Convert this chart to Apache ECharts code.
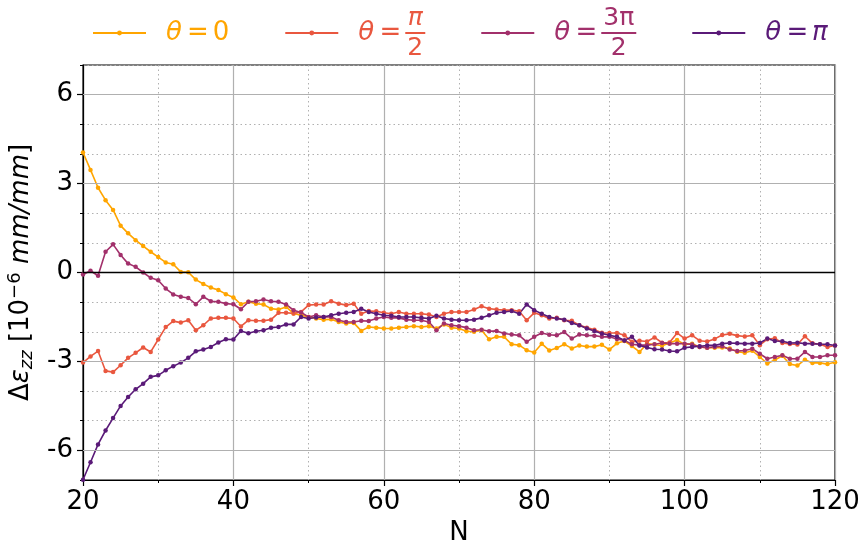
<!DOCTYPE html>
<html>
<head>
<meta charset="utf-8">
<script src="https://cdn.jsdelivr.net/npm/echarts@6/dist/echarts.min.js"></script>
<style>html,body{margin:0;padding:0;background:#fff}#c{width:858px;height:545px}</style>
</head>
<body>
<div id="c"></div>
<script>
// N from 20 to 120
const nValues = [20,21,22,23,24,25,26,27,28,29,30,31,32,33,34,35,36,37,38,39,40,41,42,43,44,45,46,47,48,49,50,51,52,53,54,55,56,57,58,59,60,61,62,63,64,65,66,67,68,69,70,71,72,73,74,75,76,77,78,79,80,81,82,83,84,85,86,87,88,89,90,91,92,93,94,95,96,97,98,99,100,101,102,103,104,105,106,107,108,109,110,111,112,113,114,115,116,117,118,119,120];

const theta0 = [4.05,3.46,2.86,2.44,2.11,1.58,1.32,1.09,0.89,0.70,0.52,0.34,0.28,0.02,0.01,-0.24,-0.39,-0.51,-0.59,-0.73,-0.84,-1.07,-0.99,-1.05,-1.08,-1.22,-1.25,-1.16,-1.38,-1.44,-1.50,-1.55,-1.59,-1.58,-1.67,-1.72,-1.70,-1.97,-1.84,-1.86,-1.89,-1.89,-1.86,-1.84,-1.81,-1.84,-1.81,-1.89,-1.75,-1.86,-1.89,-1.98,-2.00,-1.95,-2.25,-2.17,-2.17,-2.42,-2.45,-2.62,-2.70,-2.40,-2.63,-2.55,-2.42,-2.56,-2.46,-2.50,-2.50,-2.44,-2.60,-2.39,-2.31,-2.48,-2.68,-2.40,-2.43,-2.47,-2.38,-2.28,-2.43,-2.40,-2.51,-2.54,-2.54,-2.53,-2.56,-2.67,-2.71,-2.64,-2.85,-3.07,-2.95,-2.81,-3.09,-3.14,-2.94,-3.05,-3.05,-3.09,-3.03];

const thetaHalfPi = [-3.04,-2.83,-2.65,-3.32,-3.36,-3.13,-2.88,-2.71,-2.53,-2.68,-2.26,-1.84,-1.64,-1.69,-1.61,-1.95,-1.78,-1.55,-1.53,-1.53,-1.55,-1.82,-1.61,-1.63,-1.63,-1.59,-1.36,-1.36,-1.38,-1.33,-1.10,-1.08,-1.08,-0.97,-1.05,-1.10,-1.05,-1.39,-1.30,-1.31,-1.36,-1.39,-1.33,-1.39,-1.39,-1.39,-1.42,-1.50,-1.39,-1.33,-1.33,-1.33,-1.25,-1.14,-1.22,-1.25,-1.27,-1.27,-1.31,-1.61,-1.36,-1.44,-1.55,-1.53,-1.61,-1.63,-1.78,-1.86,-1.93,-2.03,-2.04,-2.04,-2.12,-2.34,-2.30,-2.33,-2.19,-2.37,-2.36,-2.04,-2.23,-2.12,-2.30,-2.33,-2.24,-2.11,-2.07,-2.13,-2.16,-2.12,-2.45,-2.25,-2.22,-2.38,-2.41,-2.43,-2.15,-2.39,-2.42,-2.51,-2.46];

const theta3HalfPi = [-0.07,0.06,-0.11,0.70,0.95,0.59,0.30,0.19,0.00,-0.18,-0.26,-0.54,-0.74,-0.82,-0.86,-1.07,-0.82,-0.97,-0.99,-1.05,-1.07,-1.24,-0.99,-0.97,-0.91,-0.97,-0.99,-1.08,-1.27,-1.35,-1.50,-1.44,-1.50,-1.50,-1.61,-1.67,-1.67,-1.63,-1.64,-1.55,-1.50,-1.53,-1.53,-1.59,-1.61,-1.61,-1.67,-1.95,-1.72,-1.78,-1.81,-1.86,-1.95,-1.93,-1.98,-1.97,-2.06,-2.09,-2.12,-2.34,-2.17,-2.04,-2.10,-2.12,-2.01,-2.23,-2.09,-2.12,-2.13,-2.17,-2.17,-2.24,-2.29,-2.42,-2.45,-2.45,-2.42,-2.38,-2.40,-2.40,-2.40,-2.43,-2.51,-2.54,-2.51,-2.49,-2.60,-2.65,-2.63,-2.57,-2.74,-2.91,-2.85,-2.79,-2.91,-2.91,-2.68,-2.85,-2.85,-2.79,-2.79];

const thetaPi = [-6.99,-6.40,-5.80,-5.33,-4.91,-4.50,-4.20,-3.94,-3.75,-3.52,-3.47,-3.30,-3.16,-3.04,-2.88,-2.66,-2.60,-2.51,-2.36,-2.25,-2.26,-1.97,-2.05,-1.98,-1.95,-1.86,-1.84,-1.75,-1.75,-1.50,-1.55,-1.52,-1.50,-1.44,-1.39,-1.36,-1.33,-1.22,-1.33,-1.39,-1.44,-1.46,-1.50,-1.50,-1.50,-1.53,-1.55,-1.46,-1.55,-1.59,-1.61,-1.61,-1.59,-1.53,-1.44,-1.36,-1.33,-1.30,-1.39,-1.08,-1.27,-1.39,-1.50,-1.55,-1.59,-1.70,-1.78,-1.89,-1.97,-2.06,-2.12,-2.17,-2.29,-2.17,-2.46,-2.53,-2.59,-2.60,-2.65,-2.66,-2.54,-2.51,-2.49,-2.46,-2.46,-2.40,-2.38,-2.39,-2.40,-2.40,-2.38,-2.23,-2.31,-2.32,-2.38,-2.37,-2.40,-2.40,-2.42,-2.42,-2.46];

const seriesNames = ['θ = 0', 'θ = π/2', 'θ = 3π/2', 'θ = π'];
const seriesColors = ['#FFA500', '#E9573F', '#A2306B', '#5A1A78'];
const yTickValues = [-6, -3, 0, 3, 6];
const xAxisTitle = 'N';

const FONT = 'DejaVu Sans';
const allSeries = [theta0, thetaHalfPi, theta3HalfPi, thetaPi];

const chart = echarts.init(document.getElementById('c'), null, {renderer: 'canvas'});

const legendRich = {
  g: {width: 15, fontSize: 26, lineHeight: 26},
  gm: {width: 15, fontSize: 26, lineHeight: 4},
  th: {width: 17, fontSize: 26, fontStyle: 'italic', fontFamily: FONT, lineHeight: 26},
  thm: {width: 17, fontSize: 26, fontStyle: 'italic', fontFamily: FONT, lineHeight: 4},
  eq: {width: 30, align: 'center', fontSize: 26, fontFamily: FONT, lineHeight: 26},
  eqm: {width: 30, align: 'center', fontSize: 26, fontFamily: FONT, lineHeight: 4},
  v: {width: 16, align: 'center', fontSize: 26, fontFamily: FONT, lineHeight: 26},
  pi: {width: 15, align: 'center', fontSize: 26, fontStyle: 'italic', fontFamily: FONT, lineHeight: 26},
  sp: {width: 47, fontSize: 26, lineHeight: 21},
  n2: {width: 20, align: 'center', fontSize: 25, fontStyle: 'italic', fontFamily: FONT, lineHeight: 21},
  d2: {width: 20, align: 'center', fontSize: 25, fontFamily: FONT, lineHeight: 21},
  n3: {width: 35, align: 'center', fontSize: 25, fontFamily: FONT, lineHeight: 21},
  d3: {width: 35, align: 'center', fontSize: 25, fontFamily: FONT, lineHeight: 21},
  bar2: {width: 20, height: 2, lineHeight: 4, backgroundColor: seriesColors[1]},
  bar3: {width: 35, height: 2, lineHeight: 4, backgroundColor: seriesColors[2]}
};

const legendText = {};
legendText[seriesNames[0]] = '{g| }{th|θ}{eq|=}{v|0}';
legendText[seriesNames[1]] = '{g| }{sp| }{n2|π}\n{gm| }{thm|θ}{eqm|=}{bar2| }\n{g| }{sp| }{d2|2}';
legendText[seriesNames[2]] = '{g| }{sp| }{n3|3π}\n{gm| }{thm|θ}{eqm|=}{bar3| }\n{g| }{sp| }{d3|2}';
legendText[seriesNames[3]] = '{g| }{th|θ}{eq|=}{pi|π}';

const series = allSeries.map((vals, k) => ({
  name: seriesNames[k],
  type: 'line',
  data: nValues.map((n, i) => [n, vals[i]]),
  symbol: 'circle',
  symbolSize: 4.5,
  showSymbol: true,
  z: 3,
  lineStyle: {width: 1.6, color: seriesColors[k]},
  itemStyle: {color: seriesColors[k]},
  color: seriesColors[k],
  animation: false
}));

series.push({
  name: '_grid',
  type: 'line',
  data: [],
  z: 1,
  silent: true,
  animation: false,
  markLine: {
    silent: true,
    symbol: 'none',
    animation: false,
    label: {show: false},
    data: yTickValues.map(v => ({
      yAxis: v,
      lineStyle: v === 0 ? {color: '#000', width: 1.4, type: 'solid'} : {color: '#b0b0b0', width: 1.2, type: 'solid'}
    }))
  }
});

chart.setOption({
  animation: false,
  backgroundColor: '#fff',
  textStyle: {fontFamily: FONT},
  legend: {
    data: seriesNames.map((n, k) => ({name: n, textStyle: {color: seriesColors[k]}})),
    left: 92,
    top: 5,
    padding: 0,
    itemGap: 55,
    itemWidth: 53,
    itemHeight: 6,
    formatter: name => legendText[name],
    textStyle: {fontFamily: FONT, fontSize: 26, rich: legendRich}
  },
  grid: {left: 83, right: 23, top: 65, bottom: 65, show: true, borderColor: '#000', borderWidth: 1.2,
    backgroundColor: 'transparent', containLabel: false, outerBoundsMode: 'none'},
  xAxis: {
    type: 'value',
    min: 20, max: 120, interval: 20,
    name: xAxisTitle,
    nameLocation: 'middle',
    nameGap: 40,
    nameTextStyle: {fontSize: 26, color: '#000', fontFamily: FONT},
    axisLine: {show: true, onZero: false, lineStyle: {color: '#000', width: 1.2}},
    axisTick: {show: true, length: 6, lineStyle: {color: '#000', width: 1.2}},
    minorTick: {show: true, splitNumber: 2, length: 3, lineStyle: {color: '#000', width: 1}},
    axisLabel: {fontSize: 26, color: '#000', margin: 9, fontFamily: FONT},
    splitLine: {show: true, lineStyle: {color: '#b0b0b0', width: 1.2}},
    minorSplitLine: {show: true, lineStyle: {color: '#b0b0b0', width: 1, type: [1.5, 3]}}
  },
  yAxis: [{
    type: 'value',
    min: -7, max: 7, interval: 1,
    axisLine: {show: true, onZero: false, lineStyle: {color: '#000', width: 1.2}},
    axisTick: {show: true, length: 3, lineStyle: {color: '#000', width: 1}},
    axisLabel: {show: false},
    splitLine: {show: true, lineStyle: {color: '#b0b0b0', width: 1, type: [1.5, 3]}}
  }, {
    type: 'value',
    position: 'left',
    min: -7, max: 7, interval: 1,
    name: '{d|Δ}{e|ε}{sub|zz}{t| [10}{sup|−6}{t| }{e|mm/mm}{t|]}',
    nameLocation: 'middle',
    nameRotate: 90,
    nameGap: 34,
    nameTextStyle: {
      fontSize: 26, color: '#000', fontFamily: FONT,
      rich: {
        d: {fontSize: 26, fontFamily: FONT, color: '#000'},
        e: {fontSize: 26, fontStyle: 'italic', fontFamily: FONT, color: '#000'},
        t: {fontSize: 26, fontFamily: FONT, color: '#000'},
        sub: {fontSize: 18, fontStyle: 'italic', fontFamily: FONT, color: '#000', padding: [12, 0, 0, 0]},
        sup: {fontSize: 18, fontFamily: FONT, color: '#000', padding: [0, 0, 12, 0]}
      }
    },
    axisLine: {show: false},
    axisTick: {show: true, length: 6, customValues: yTickValues, lineStyle: {color: '#000', width: 1.2}},
    axisLabel: {show: true, customValues: yTickValues, fontSize: 26, color: '#000', margin: 10, fontFamily: FONT,
      formatter: v => (v % 3 === 0 ? String(v) : '')},
    splitLine: {show: false}
  }],
  series: series
});
</script>
</body>
</html>
